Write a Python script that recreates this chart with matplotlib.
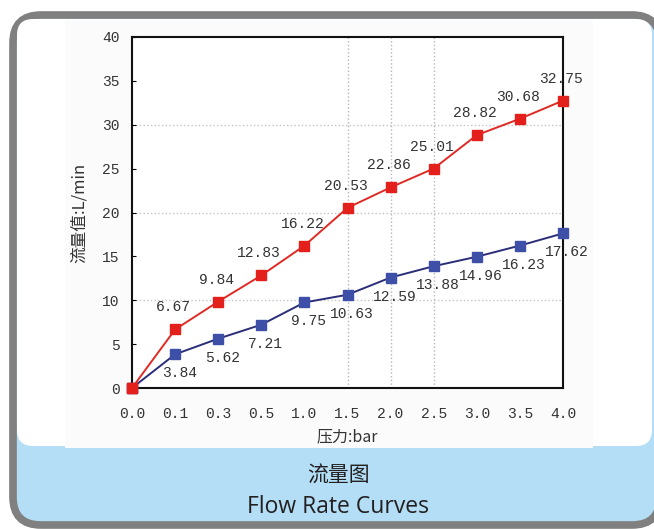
import matplotlib.pyplot as plt
from matplotlib.patches import FancyBboxPatch, Rectangle
import numpy as np

pressure = ['0.0', '0.1', '0.3', '0.5', '1.0', '1.5', '2.0', '2.5', '3.0', '3.5', '4.0']
flow_high = [0, 6.67, 9.84, 12.83, 16.22, 20.53, 22.86, 25.01, 28.82, 30.68, 32.75]
flow_low = [0, 3.84, 5.62, 7.21, 9.75, 10.63, 12.59, 13.88, 14.96, 16.23, 17.62]
y_grid = [10, 20, 30]
x_grid = ['1.5', '2.0', '2.5']

W, H = 654, 529
fig = plt.figure(figsize=(W / 100, H / 100), dpi=100)
fig.patch.set_facecolor('white')

# background card
bg = fig.add_axes([0, 0, 1, 1])
bg.set_xlim(0, W)
bg.set_ylim(H, 0)
bg.axis('off')
bg.add_patch(FancyBboxPatch((13, 15), 647, 510, boxstyle='round,pad=0,rounding_size=28',
                            facecolor='#b3def5', edgecolor='#808080', linewidth=5.5))
bg.add_patch(FancyBboxPatch((17, 19), 635, 427, boxstyle='round,pad=0,rounding_size=16',
                            facecolor='white', edgecolor='none'))
bg.add_patch(Rectangle((65, 20), 528, 428, facecolor='#fbfbfb', edgecolor='none'))
bg.text(338, 476, '流量图', ha='center', va='center', fontsize=15,
        family=['Noto Sans CJK SC', 'DejaVu Sans'], color='#231f20')
bg.text(338, 507, 'Flow Rate Curves', ha='center', va='center', fontsize=16.5,
        family=['Open Sans', 'DejaVu Sans'], color='#231f20')

# chart
ax = fig.add_axes([132 / W, (H - 388) / H, 431 / W, 351 / H])
ax.set_facecolor('white')
x = np.arange(len(pressure))

for v in y_grid:
    ax.axhline(v, color='#c4c4c4', linestyle=':', linewidth=1.0, zorder=0)
for p in x_grid:
    ax.axvline(pressure.index(p), color='#b5b5b5', linestyle=':', linewidth=1.0, zorder=0)

ax.plot(x, flow_high, color='#e02a24', linewidth=1.4, marker='s', markersize=7,
        markerfacecolor='#e3201c', markeredgecolor='#e3201c', zorder=3, clip_on=False)
ax.plot(x, flow_low, color='#2b2d78', linewidth=1.4, marker='s', markersize=7,
        markerfacecolor='#3d4fa6', markeredgecolor='#3d4fa6', zorder=3, clip_on=False)
# red marker on top at origin
ax.plot([0], [flow_high[0]], marker='s', markersize=7, color='#e3201c', zorder=4, clip_on=False)

num_font = ['Liberation Mono', 'DejaVu Sans Mono']
for i in range(1, len(x)):
    ax.annotate(f'{flow_high[i]:.2f}', (x[i], flow_high[i]), textcoords='offset pixels',
                xytext=(-2, 22), ha='center', va='center', fontsize=10.5,
                family=num_font, color='#333333')
    ax.annotate(f'{flow_low[i]:.2f}', (x[i], flow_low[i]), textcoords='offset pixels',
                xytext=(4, -19), ha='center', va='center', fontsize=10.5,
                family=num_font, color='#333333')

ax.set_xlim(0, len(x) - 1)
ax.set_ylim(0, 40)
ax.set_xticks(x)
ax.set_xticklabels(pressure, family=num_font, fontsize=10.5, color='#333333')
ax.set_yticks(range(0, 41, 5))
ax.set_yticklabels([str(v) for v in range(0, 41, 5)], family=num_font, fontsize=10.5, color='#333333')
ax.tick_params(axis='x', length=0, pad=14)
ax.tick_params(axis='y', length=3, direction='in', pad=9)
for s in ax.spines.values():
    s.set_linewidth(1.5)
    s.set_color('#111111')

ax.set_xlabel('压力:bar', family=['Noto Sans CJK SC', 'DejaVu Sans'], fontsize=11.5,
              color='#333333', labelpad=5)
ax.set_ylabel('流量值:L/min', family=['Noto Sans CJK SC', 'DejaVu Sans'], fontsize=12,
              color='#333333', labelpad=10)

fig.savefig('out.png', dpi=100)
